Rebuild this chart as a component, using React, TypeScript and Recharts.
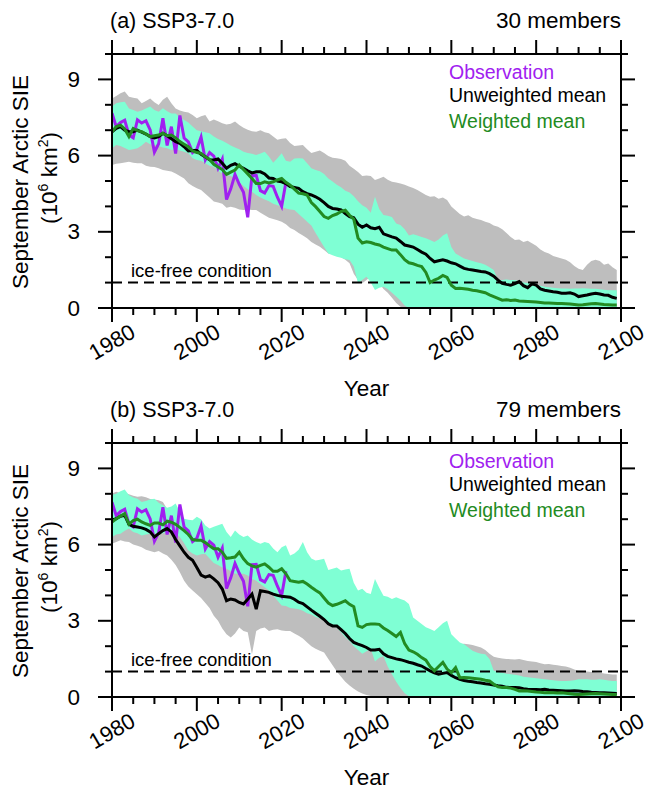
import React from 'react';
import { ComposedChart, Area, Line, XAxis, YAxis, ReferenceLine } from 'recharts';

const FONT = "'Liberation Sans', Arial, Helvetica, sans-serif";
const W = 648;
const H = 395;
const PLOT_LEFT = 112;
const PLOT_RIGHT = 621;
const PLOT_TOP = 54;
const PLOT_BOTTOM = 308;

const years: number[] = Array.from({ length: 120 }, (_, i) => 1980 + i);
const xTicks = [1980, 1985, 1990, 1995, 2000, 2005, 2010, 2015, 2020, 2025, 2030, 2035, 2040, 2045, 2050, 2055, 2060, 2065, 2070, 2075, 2080, 2085, 2090, 2095, 2100];
const xLabels = [1980, 2000, 2020, 2040, 2060, 2080, 2100];
const yTicks = [0, 1, 2, 3, 4, 5, 6, 7, 8, 9, 10];
const yLabels = [0, 3, 6, 9];

// Observation (1980-2021)
const observation = [
  7.67, 7.14, 7.3, 7.39, 6.81, 6.7, 7.41, 7.28, 7.37, 7.01,
  6.14, 6.47, 7.47, 6.4, 7.14, 6.08, 7.58, 6.69, 6.54, 6.12,
  6.25, 6.73, 5.83, 6.12, 5.98, 5.5, 5.86, 4.27, 4.69, 5.26,
  4.87, 4.56, 3.57, 5.21, 5.22, 4.62, 4.53, 4.82, 4.79, 4.36,
  4.0, 4.95,
];

// ---------- Panel (a): 30 members ----------
const unweightedA = [
  6.94, 7.07, 7.14, 7.0, 6.94, 6.94, 7.0, 6.92, 6.85, 6.75,
  6.7, 6.75, 6.88, 6.78, 6.66, 6.55, 6.48, 6.35, 6.18, 6.2,
  6.2, 6.05, 5.95, 5.84, 5.83, 5.87, 5.7, 5.5, 5.62, 5.68,
  5.58, 5.5, 5.4, 5.32, 5.36, 5.36, 5.28, 5.12, 5.1, 5.0,
  4.97, 4.9, 4.78, 4.75, 4.71, 4.58, 4.5, 4.45, 4.38, 4.28,
  4.15, 4.0, 3.92, 3.9, 3.86, 3.72, 3.6, 3.55, 3.3, 3.18,
  3.27, 3.16, 3.12, 3.18, 2.92, 2.86, 2.8, 2.75, 2.62, 2.48,
  2.44, 2.4, 2.3, 2.2, 2.12, 1.95, 1.82, 1.86, 1.9, 1.85,
  1.78, 1.74, 1.65, 1.56, 1.52, 1.5, 1.47, 1.44, 1.42, 1.35,
  1.25, 1.1, 0.97, 0.93, 0.9, 0.96, 1.04, 0.88, 0.8, 0.95,
  0.9, 0.75, 0.7, 0.67, 0.64, 0.62, 0.58, 0.58, 0.6, 0.55,
  0.45, 0.48, 0.51, 0.55, 0.58, 0.55, 0.51, 0.5, 0.42, 0.38,
];
const weightedA = [
  6.94, 7.14, 7.2, 7.05, 6.75, 7.07, 6.98, 6.94, 6.85, 6.75,
  6.78, 6.81, 6.88, 6.78, 6.81, 6.7, 6.55, 6.45, 6.35, 6.18,
  6.12, 6.09, 5.95, 5.85, 5.66, 5.55, 5.45, 5.26, 5.35, 5.43,
  5.63, 5.45, 5.28, 5.1, 4.9, 4.9, 4.97, 4.92, 4.97, 5.04,
  5.1, 4.95, 4.84, 4.68, 4.52, 4.5, 4.45, 4.15, 3.99, 3.8,
  3.6, 3.53, 3.64, 3.7, 3.8, 3.85, 3.65, 3.5, 2.75, 2.56,
  2.61, 2.58, 2.52, 2.48, 2.4, 2.34, 2.28, 2.28, 2.1, 1.9,
  1.78, 1.74, 1.68, 1.63, 1.4, 1.0, 1.1, 1.17, 1.28, 1.2,
  0.9, 0.77, 0.78, 0.76, 0.74, 0.7, 0.68, 0.64, 0.6, 0.52,
  0.45, 0.38, 0.31, 0.32, 0.3, 0.31, 0.28, 0.27, 0.26, 0.25,
  0.24, 0.22, 0.2, 0.2, 0.19, 0.18, 0.18, 0.17, 0.16, 0.14,
  0.12, 0.13, 0.15, 0.17, 0.18, 0.16, 0.14, 0.13, 0.12, 0.12,
];
const grayUpA = [
  8.25, 8.35, 8.45, 8.52, 8.32, 8.28, 8.25, 8.06, 8.15, 8.25,
  8.1, 7.99, 8.2, 8.32, 8.06, 7.85, 7.78, 7.73, 7.7, 7.6,
  7.47, 7.55, 7.6, 7.34, 7.42, 7.35, 7.27, 7.22, 7.25, 7.34,
  7.2, 7.1, 7.02, 6.96, 6.94, 7.0, 6.92, 6.88, 6.75, 6.62,
  6.66, 6.68, 6.5, 6.38, 6.4, 6.42, 6.25, 6.1, 6.15, 6.2,
  6.1, 5.98, 5.92, 5.9, 5.87, 5.8, 5.6, 5.48, 5.35, 5.2,
  5.22, 5.2, 5.04, 5.1, 5.17, 5.05, 4.97, 4.94, 4.9, 4.85,
  4.78, 4.72, 4.65, 4.55, 4.45, 4.38, 4.4, 4.3, 4.35, 4.25,
  4.0, 3.85, 3.7, 3.6, 3.65, 3.55, 3.5, 3.46, 3.4, 3.35,
  3.25, 3.2, 3.1, 2.95, 2.8, 2.68, 2.7, 2.6, 2.65, 2.55,
  2.45, 2.3, 2.2, 2.15, 2.05, 2.0, 1.95, 1.9, 1.8, 1.65,
  1.55, 1.5, 1.7, 1.85, 1.9, 1.85, 1.7, 1.75, 1.6, 1.5,
];
const grayLoA = [
  5.63, 5.68, 5.7, 5.73, 5.76, 5.72, 5.7, 5.7, 5.6, 5.56,
  5.55, 5.5, 5.43, 5.4, 5.37, 5.3, 5.2, 5.1, 4.91, 4.8,
  4.71, 4.65, 4.5, 4.35, 4.19, 4.15, 4.1, 3.95, 3.99, 3.95,
  3.88, 3.86, 3.88, 3.86, 3.86, 3.75, 3.65, 3.55, 3.5, 3.45,
  3.4, 3.3, 3.15, 3.07, 2.95, 2.85, 2.75, 2.6, 2.5, 2.41,
  2.28, 2.15, 2.12, 2.09, 2.0, 1.9, 1.76, 1.35, 1.1, 0.97,
  1.1, 1.23, 1.05, 0.97, 0.75, 0.6, 0.4, 0.2, 0.05, 0,
  0, 0, 0, 0, 0, 0, 0, 0, 0, 0,
  0, 0, 0, 0, 0, 0, 0, 0, 0, 0,
  0, 0, 0, 0, 0, 0, 0, 0, 0, 0,
  0, 0, 0, 0, 0, 0, 0, 0, 0, 0,
  0, 0, 0, 0, 0, 0, 0, 0, 0, 0,
];
const aquaUpA = [
  7.93, 8.06, 8.1, 8.12, 7.85, 7.8, 7.73, 7.78, 7.85, 7.93,
  7.8, 7.73, 7.86, 7.75, 7.66, 7.66, 7.5, 7.4, 7.3, 7.15,
  7.0, 6.96, 6.92, 6.88, 6.75, 6.65, 6.58, 6.5, 6.4, 6.32,
  6.25, 6.15, 6.1, 6.07, 6.02, 6.08, 6.15, 5.96, 5.72, 5.9,
  6.09, 5.8, 5.76, 5.89, 5.9, 5.89, 5.7, 5.5, 5.43, 5.38,
  5.28, 5.1, 4.98, 4.85, 4.75, 4.62, 4.55, 4.4, 4.2, 4.05,
  3.95, 3.75, 4.38, 3.9, 3.66, 3.63, 3.58, 3.33, 3.27, 3.1,
  2.85, 2.9, 2.85, 2.8, 2.75, 2.68, 2.6, 2.7, 2.85, 2.94,
  2.4, 2.15, 2.05, 1.95, 1.9, 1.85, 1.8, 1.76, 1.7, 1.6,
  1.5, 1.1, 1.1, 1.12, 1.1, 1.1, 1.05, 1.0, 0.98, 0.97,
  0.92, 0.88, 0.84, 0.82, 0.8, 0.78, 0.77, 0.77, 0.76, 0.77,
  0.77, 0.78, 0.77, 0.76, 0.76, 0.74, 0.72, 0.7, 0.7, 0.7,
];
const aquaLoA = [
  6.29, 6.42, 6.38, 6.3, 6.22, 6.25, 6.29, 6.4, 6.55, 6.45,
  6.42, 6.38, 6.32, 6.29, 6.22, 6.25, 6.2, 6.15, 6.09, 5.9,
  5.83, 5.8, 5.7, 5.6, 5.56, 5.4, 5.3, 5.24, 5.2, 5.1,
  4.95, 4.8, 4.68, 4.58, 4.45, 4.35, 4.27, 4.2, 4.1, 4.05,
  3.99, 3.92, 3.88, 3.86, 3.7, 3.55, 3.4, 3.25, 2.95, 2.68,
  2.4, 2.15, 2.08, 2.02, 1.98, 1.92, 1.89, 1.63, 0.97, 1.1,
  1.23, 1.0, 0.71, 0.8, 0.84, 0.75, 0.6, 0.45, 0.3, 0.1,
  0, 0, 0, 0, 0, 0, 0, 0, 0, 0,
  0, 0, 0, 0, 0, 0, 0, 0, 0, 0,
  0, 0, 0, 0, 0, 0, 0, 0, 0, 0,
  0, 0, 0, 0, 0, 0, 0, 0, 0, 0,
  0, 0, 0, 0, 0, 0, 0, 0, 0, 0,
];

// ---------- Panel (b): 79 members ----------
const unweightedB = [
  6.96, 7.02, 7.12, 7.15, 6.8, 6.72, 6.69, 6.66, 6.6, 6.5,
  6.3, 6.43, 6.55, 6.63, 6.5, 6.2, 5.95, 5.7, 5.5, 5.38,
  5.1, 4.8, 4.72, 4.78, 4.65, 4.5, 4.25, 3.79, 3.86, 3.82,
  3.72, 3.66, 3.85, 4.05, 3.46, 4.18, 4.15, 4.12, 4.05, 4.0,
  3.97, 3.95, 3.93, 3.85, 3.73, 3.68, 3.55, 3.42, 3.3, 3.18,
  3.05, 2.88, 2.8, 2.8, 2.65, 2.5, 2.3, 2.15, 2.08, 2.02,
  1.95, 1.85, 1.85, 1.88, 1.7, 1.6, 1.55, 1.5, 1.47, 1.42,
  1.37, 1.33, 1.27, 1.22, 1.12, 1.03, 0.95, 0.9, 0.93, 0.96,
  0.85, 0.76, 0.7, 0.65, 0.62, 0.6, 0.57, 0.55, 0.52, 0.5,
  0.47, 0.44, 0.42, 0.38, 0.37, 0.37, 0.36, 0.33, 0.31, 0.3,
  0.3, 0.29, 0.3, 0.28, 0.27, 0.26, 0.25, 0.24, 0.24, 0.25,
  0.24, 0.22, 0.21, 0.19, 0.18, 0.17, 0.17, 0.16, 0.15, 0.14,
];
const weightedB = [
  6.89, 7.02, 7.12, 7.22, 6.8, 6.95, 7.0, 6.89, 6.82, 6.76,
  6.85, 6.85, 6.78, 6.92, 6.88, 6.8, 6.68, 6.55, 6.4, 6.2,
  6.17, 6.17, 6.08, 5.95, 5.84, 5.84, 5.7, 5.46, 5.48, 5.51,
  5.7, 5.44, 5.25, 5.16, 5.11, 5.18, 5.24, 5.11, 4.95, 4.95,
  5.05, 4.85, 4.58, 4.55, 4.52, 4.55, 4.45, 4.32, 4.2, 4.1,
  3.9, 3.7, 3.6, 3.65, 3.72, 3.79, 3.65, 3.55, 2.8, 2.74,
  2.85, 2.87, 2.87, 2.86, 2.72, 2.62, 2.5, 2.38, 2.54, 2.1,
  1.85, 1.78, 1.68, 1.55, 1.45, 1.2, 1.03, 1.2, 1.36, 1.1,
  0.96, 1.16, 0.76, 0.77, 0.76, 0.74, 0.72, 0.7, 0.66, 0.63,
  0.5, 0.4, 0.37, 0.37, 0.35, 0.3, 0.24, 0.25, 0.24, 0.22,
  0.2, 0.19, 0.17, 0.18, 0.17, 0.16, 0.17, 0.15, 0.13, 0.11,
  0.1, 0.11, 0.12, 0.13, 0.14, 0.13, 0.12, 0.11, 0.1, 0.1,
];
const grayUpB = [
  8.01, 8.08, 8.02, 8.05, 7.98, 7.92, 7.88, 7.9, 7.86, 7.8,
  7.78, 7.75, 7.68, 7.4, 7.3, 7.2, 7.05, 6.9, 6.8, 6.7,
  6.62, 6.5, 6.4, 6.3, 6.25, 6.15, 6.05, 5.95, 5.9, 5.8,
  5.75, 5.7, 5.6, 5.55, 5.45, 5.4, 5.3, 5.2, 5.15, 5.05,
  5.0, 4.9, 4.8, 4.7, 4.6, 4.5, 4.4, 4.3, 4.2, 4.1,
  4.0, 3.9, 3.8, 3.7, 3.6, 3.5, 3.4, 3.3, 3.2, 3.1,
  3.05, 3.0, 2.95, 2.9, 2.85, 2.8, 2.75, 2.7, 2.65, 2.6,
  2.55, 2.5, 2.45, 2.4, 2.35, 2.3, 2.25, 2.2, 2.18, 2.15,
  2.12, 2.1, 2.08, 2.1, 2.08, 2.05, 2.0, 1.95, 1.85, 1.7,
  1.58, 1.55, 1.52, 1.5, 1.49, 1.48, 1.5, 1.46, 1.42, 1.4,
  1.38, 1.33, 1.29, 1.3, 1.27, 1.25, 1.22, 1.2, 1.15, 1.08,
  1.03, 1.02, 1.0, 0.98, 0.96, 0.95, 0.93, 0.91, 0.89, 0.89,
];
const grayLoB = [
  6.03, 6.1, 6.17, 6.12, 6.1, 6.0, 5.95, 5.9, 5.8, 5.75,
  5.7, 5.75, 5.65, 5.57, 5.4, 5.2, 4.91, 4.58, 4.35, 4.19,
  4.05, 3.9, 3.7, 3.5, 3.2, 3.0, 2.7, 2.47, 2.34, 2.5,
  2.74, 2.6, 2.55, 1.68, 2.6, 2.7, 2.74, 2.6, 2.65, 2.67,
  2.62, 2.6, 2.6, 2.5, 2.41, 2.3, 2.15, 2.0, 1.9, 1.82,
  1.75, 1.5, 1.25, 1.0, 0.8, 0.6, 0.45, 0.32, 0.22, 0.14,
  0.08, 0.04, 0, 0, 0, 0, 0, 0, 0, 0,
  0, 0, 0, 0, 0, 0, 0, 0, 0, 0,
  0, 0, 0, 0, 0, 0, 0, 0, 0, 0,
  0, 0, 0, 0, 0, 0, 0, 0, 0, 0,
  0, 0, 0, 0, 0, 0, 0, 0, 0, 0,
  0, 0, 0, 0, 0, 0, 0, 0, 0, 0,
];
const aquaUpB = [
  7.95, 8.0, 8.1, 8.17, 7.94, 7.85, 7.81, 7.68, 7.72, 7.78,
  7.81, 7.65, 7.55, 7.45, 7.5, 7.62, 7.3, 7.02, 6.98, 6.96,
  7.1, 7.0, 6.75, 6.63, 6.7, 6.76, 6.82, 6.5, 6.3, 6.56,
  6.4, 6.3, 6.36, 6.2, 6.1, 6.03, 6.1, 6.05, 5.85, 5.7,
  5.9, 5.97, 5.57, 5.65, 5.8, 6.1, 5.7, 5.45, 5.37, 5.4,
  5.44, 5.0, 5.05, 5.1, 4.98, 5.02, 5.05, 4.5, 4.19, 4.26,
  4.1, 4.06, 4.65, 4.3, 3.99, 3.95, 3.86, 3.93, 3.86, 3.8,
  3.66, 3.13, 3.0, 2.87, 2.75, 2.68, 2.6, 2.75, 2.9, 3.0,
  2.47, 2.3, 2.15, 2.08, 1.95, 1.82, 1.75, 1.7, 1.68, 1.5,
  1.03, 0.98, 0.95, 0.92, 0.9, 0.88, 0.85, 0.8, 0.78, 0.76,
  0.74, 0.72, 0.7, 0.68, 0.66, 0.64, 0.63, 0.63, 0.64, 0.66,
  0.7, 0.7, 0.7, 0.68, 0.68, 0.7, 0.68, 0.65, 0.63, 0.63,
];
const aquaLoB = [
  6.3, 6.4, 6.43, 6.55, 6.63, 6.5, 6.45, 6.36, 6.4, 6.43,
  6.45, 6.4, 6.45, 6.5, 6.56, 6.45, 6.3, 6.05, 5.77, 5.65,
  5.57, 5.62, 5.64, 5.45, 5.28, 5.2, 5.1, 5.05, 4.95, 4.85,
  4.85, 4.85, 4.78, 4.65, 4.58, 4.45, 4.32, 4.19, 4.0, 3.8,
  3.6, 3.58, 3.5, 3.48, 3.45, 3.4, 3.3, 3.25, 3.15, 3.1,
  3.0, 2.9, 2.8, 2.74, 2.55, 2.35, 2.2, 2.0, 1.85, 1.7,
  1.8, 1.9, 1.4, 1.55, 1.6, 1.2, 0.9, 0.6, 0.35, 0.15,
  0.03, 0, 0, 0, 0, 0, 0, 0, 0, 0,
  0, 0, 0, 0, 0, 0, 0, 0, 0, 0,
  0, 0, 0, 0, 0, 0, 0, 0, 0, 0,
  0, 0, 0, 0, 0, 0, 0, 0, 0, 0,
  0, 0, 0, 0, 0, 0, 0, 0, 0, 0,
];

function buildRows(unw: number[], wt: number[], gLo: number[], gUp: number[], aLo: number[], aUp: number[]) {
  return years.map((year, i) => ({
    year,
    obs: i < observation.length ? observation[i] : null,
    unw: unw[i],
    wt: wt[i],
    gray: [gLo[i], gUp[i]],
    aqua: [aLo[i], aUp[i]],
  }));
}

const rowsA = buildRows(unweightedA, weightedA, grayLoA, grayUpA, aquaLoA, aquaUpA);
const rowsB = buildRows(unweightedB, weightedB, grayLoB, grayUpB, aquaLoB, aquaUpB);

const XTick = (props: any) => {
  const { x, y, payload } = props;
  const v = payload.value;
  const major = xLabels.includes(v);
  const len = major ? 14 : 7;
  const ly = y + 34;
  return (
    <g>
      <line x1={x} y1={y} x2={x} y2={y + len} stroke="#000" strokeWidth={2} />
      <line x1={x} y1={PLOT_TOP} x2={x} y2={PLOT_TOP - len} stroke="#000" strokeWidth={2} />
      {major && (
        <text
          x={x}
          y={ly}
          transform={`rotate(-30 ${x} ${ly})`}
          textAnchor="middle"
          dominantBaseline="central"
          fontSize={22}
          fontFamily={FONT}
          fill="#000"
        >
          {v}
        </text>
      )}
    </g>
  );
};

const YTick = (props: any) => {
  const { x, y, payload } = props;
  const v = payload.value;
  const major = yLabels.includes(v);
  const len = major ? 14 : 7;
  return (
    <g>
      <line x1={x} y1={y} x2={x - len} y2={y} stroke="#000" strokeWidth={2} />
      <line x1={PLOT_RIGHT} y1={y} x2={PLOT_RIGHT + len} y2={y} stroke="#000" strokeWidth={2} />
      {major && (
        <text x={x - 32} y={y} textAnchor="end" dominantBaseline="central" fontSize={22.5} fontFamily={FONT} fill="#000">
          {v}
        </text>
      )}
    </g>
  );
};

function Panel({ rows, top }: { rows: any[]; top: number }) {
  return (
    <div style={{ position: 'absolute', left: 0, top, width: W, height: H }}>
      <ComposedChart
        width={W}
        height={H}
        data={rows}
        margin={{ top: PLOT_TOP, right: W - PLOT_RIGHT, bottom: 0, left: 0 }}
      >
        <XAxis
          dataKey="year"
          type="number"
          domain={[1980, 2100]}
          ticks={xTicks}
          interval={0}
          tickSize={0}
          tickMargin={0}
          tickLine={false}
          axisLine={{ stroke: '#000', strokeWidth: 2 }}
          height={H - PLOT_BOTTOM}
          tick={<XTick />}
          allowDataOverflow
        />
        <YAxis
          type="number"
          domain={[0, 10]}
          ticks={yTicks}
          interval={0}
          tickSize={0}
          tickMargin={0}
          tickLine={false}
          axisLine={{ stroke: '#000', strokeWidth: 2 }}
          width={PLOT_LEFT}
          tick={<YTick />}
          allowDataOverflow
        />
        <Area dataKey="gray" type="linear" stroke="none" fill="#bebebe" fillOpacity={1} isAnimationActive={false} dot={false} activeDot={false} />
        <Area dataKey="aqua" type="linear" stroke="none" fill="#7fffd4" fillOpacity={1} isAnimationActive={false} dot={false} activeDot={false} />
        <ReferenceLine y={1} stroke="#000" strokeWidth={2} strokeDasharray="10 6" />
        <Line dataKey="obs" type="linear" stroke="#a020f0" strokeWidth={3} dot={false} activeDot={false} isAnimationActive={false} />
        <Line dataKey="unw" type="linear" stroke="#000000" strokeWidth={3} dot={false} activeDot={false} isAnimationActive={false} />
        <Line dataKey="wt" type="linear" stroke="#228b22" strokeWidth={3} dot={false} activeDot={false} isAnimationActive={false} />
        <ReferenceLine y={10} stroke="#000" strokeWidth={2} />
        <ReferenceLine x={2100} stroke="#000" strokeWidth={2} />
      </ComposedChart>
    </div>
  );
}

function PanelText({ oy, label, members }: { oy: number; label: string; members: string }) {
  return (
    <g fontFamily={FONT}>
      <text x={110} y={oy + 28} fontSize={21.5} fill="#000">{label}</text>
      <text x={621} y={oy + 28} fontSize={22.5} fill="#000" textAnchor="end">{members}</text>
      <text x={449} y={oy + 79} fontSize={19.5} fill="#a020f0">Observation</text>
      <text x={449} y={oy + 102} fontSize={19.5} fill="#000">Unweighted mean</text>
      <text x={449} y={oy + 128} fontSize={19.5} fill="#228b22">Weighted mean</text>
      <text x={131} y={oy + 277} fontSize={18.5} fill="#000">ice-free condition</text>
      <text x={0} y={0} transform={`translate(28 ${oy + 182}) rotate(-90)`} fontSize={22.5} textAnchor="middle" fill="#000">
        September Arctic SIE
      </text>
      <text x={0} y={0} transform={`translate(57 ${oy + 178}) rotate(-90)`} fontSize={22.5} textAnchor="middle" fill="#000">
        (10<tspan dy={-9} fontSize={14}>6</tspan><tspan dy={9}> km</tspan><tspan dy={-9} fontSize={14}>2</tspan><tspan dy={9}>)</tspan>
      </text>
      <text x={366.5} y={oy + 396} fontSize={22.5} textAnchor="middle" fill="#000">Year</text>
    </g>
  );
}

export default function App() {
  return (
    <div style={{ position: 'absolute', left: 0, top: 0, width: 648, height: 789, background: '#fff', overflow: 'hidden' }}>
      <Panel rows={rowsA} top={0} />
      <Panel rows={rowsB} top={389} />
      <svg width={648} height={789} style={{ position: 'absolute', left: 0, top: 0, pointerEvents: 'none' }}>
        <PanelText oy={0} label="(a) SSP3-7.0" members="30 members" />
        <PanelText oy={389} label="(b) SSP3-7.0" members="79 members" />
      </svg>
    </div>
  );
}
